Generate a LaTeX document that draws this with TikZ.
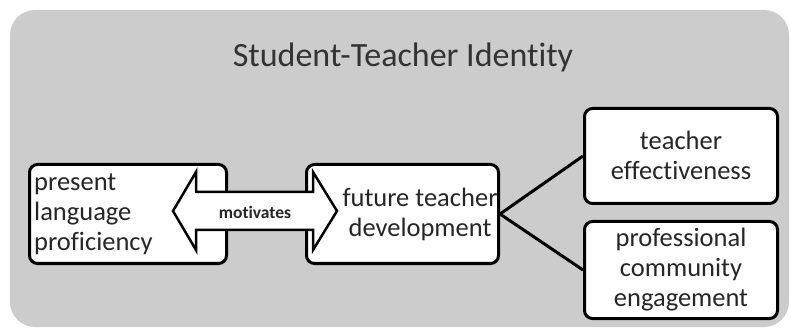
\documentclass[tikz,border=0pt]{standalone}
\usepackage{fontspec}
\setmainfont{Carlito}[Ligatures=NoCommon]
\begin{document}
\begin{tikzpicture}[x=1pt,y=-1pt,
  box/.style={draw=black, line width=3pt, rounded corners=8pt, fill=white, inner sep=0pt},
  txt/.style={font=\fontsize{26.5}{30}\selectfont, text=black!85, inner sep=0pt},
  conn/.style={draw=black, line width=3pt},
  arrowbody/.style={draw=black, fill=white, line width=2.5pt, line join=miter}]
\useasboundingbox (0,0) rectangle (791,328);
\fill[black!20, rounded corners=25pt] (10,10) rectangle (789,327);
\node[font=\fontsize{34}{40}\selectfont, text=black!80, inner sep=0pt, anchor=base] (title) at (403,67) {Student-Teacher Identity};
% boxes
\node[box, minimum width=197pt, minimum height=99pt] (b1) at (128,214) {};
\node[box, minimum width=192pt, minimum height=99pt] (b2) at (402.5,214) {};
\node[box, minimum width=193pt, minimum height=95pt] (b3) at (681,156) {};
\node[box, minimum width=193pt, minimum height=97pt] (b4) at (681,270) {};
% texts
\node[txt, anchor=west, align=left] (t1) at (34,214) {present\\language\\proficiency};
\node[txt, align=center] (t2) at (420,214) {future teacher\\development};
\node[txt, align=center] (t3) at (681,155) {teacher\\effectiveness};
\node[txt, align=center] (t4) at (681,270) {professional\\community\\engagement};
% connectors
\draw[conn] (b2.east) -- (b3.west);
\draw[conn] (b2.east) -- (b4.west);
% double arrow
\draw[arrowbody] (173,211) -- (196,172) -- (196,192) -- (313,192) -- (313,172) -- (337,211)
  -- (313,250) -- (313,230) -- (196,230) -- (196,250) -- cycle;
\node[font=\bfseries\fontsize{17.5}{20}\selectfont, text=black!85, inner sep=0pt] (mot) at (255,212) {motivates};
\end{tikzpicture}
\end{document}
